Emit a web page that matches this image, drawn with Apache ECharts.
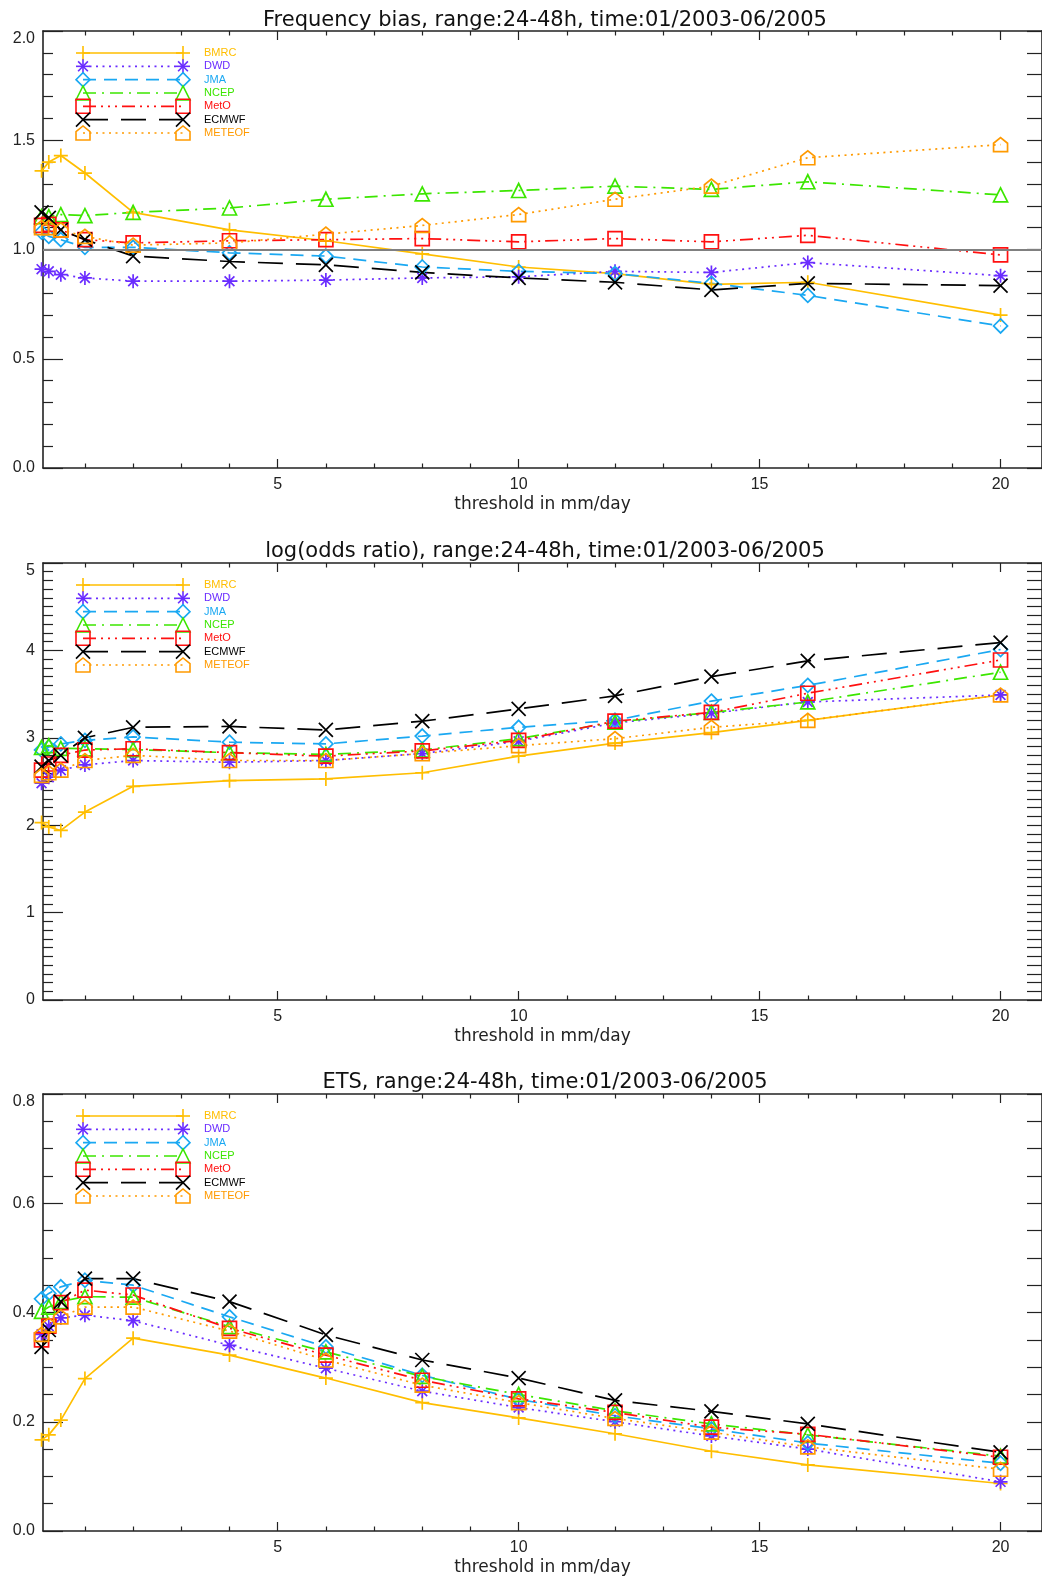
<!DOCTYPE html>
<html>
<head>
<meta charset="utf-8">
<script src="https://cdn.jsdelivr.net/npm/echarts@6/dist/echarts.min.js"></script>
<style>
  html, body { margin: 0; padding: 0; background: #fff; }
  #chart { width: 1042px; height: 1579px; }
</style>
</head>
<body>
<div id="chart"></div>
<script>
// thresholds (mm/day)
const thresholds = [0.1, 0.25, 0.5, 1, 2, 4, 6, 8, 10, 12, 14, 16, 20];
const models = ['BMRC', 'DWD', 'JMA', 'NCEP', 'MetO', 'ECMWF', 'METEOF'];

// frequency bias
const biasBMRC   = [1.36, 1.40, 1.43, 1.35, 1.17, 1.09, 1.04, 0.98, 0.92, 0.89, 0.84, 0.85, 0.70];
const biasDWD    = [0.91, 0.90, 0.885, 0.87, 0.855, 0.855, 0.86, 0.87, 0.875, 0.90, 0.895, 0.94, 0.88];
const biasJMA    = [1.08, 1.06, 1.045, 1.01, 1.01, 0.985, 0.97, 0.92, 0.90, 0.89, 0.845, 0.79, 0.65];
const biasNCEP   = [1.15, 1.15, 1.16, 1.155, 1.17, 1.19, 1.23, 1.255, 1.27, 1.29, 1.275, 1.31, 1.25];
const biasMetO   = [1.11, 1.115, 1.09, 1.045, 1.03, 1.04, 1.045, 1.05, 1.035, 1.05, 1.035, 1.065, 0.975];
const biasECMWF  = [1.17, 1.145, 1.09, 1.045, 0.97, 0.945, 0.93, 0.895, 0.87, 0.85, 0.815, 0.845, 0.835];
const biasMETEOF = [1.10, 1.10, 1.09, 1.06, 1.02, 1.03, 1.07, 1.11, 1.16, 1.23, 1.29, 1.42, 1.48];

// log(odds ratio)
const lorBMRC   = [2.03, 1.98, 1.94, 2.15, 2.445, 2.51, 2.53, 2.60, 2.79, 2.94, 3.06, 3.20, 3.49];
const lorDWD    = [2.48, 2.55, 2.63, 2.69, 2.74, 2.72, 2.74, 2.82, 2.96, 3.17, 3.28, 3.41, 3.49];
const lorJMA    = [2.86, 2.895, 2.93, 2.97, 3.01, 2.95, 2.93, 3.02, 3.12, 3.20, 3.42, 3.60, 4.01];
const lorNCEP   = [2.89, 2.91, 2.88, 2.875, 2.865, 2.83, 2.81, 2.86, 2.99, 3.18, 3.29, 3.41, 3.75];
const lorMetO   = [2.63, 2.70, 2.80, 2.86, 2.875, 2.83, 2.79, 2.85, 2.97, 3.19, 3.29, 3.51, 3.89];
const lorECMWF  = [2.67, 2.74, 2.80, 3.00, 3.12, 3.13, 3.09, 3.19, 3.33, 3.48, 3.70, 3.88, 4.09];
const lorMETEOF = [2.57, 2.60, 2.63, 2.74, 2.80, 2.74, 2.74, 2.82, 2.91, 2.99, 3.12, 3.20, 3.49];

// ETS
const etsBMRC   = [0.167, 0.176, 0.203, 0.279, 0.353, 0.322, 0.28, 0.235, 0.207, 0.178, 0.146, 0.121, 0.087];
const etsDWD    = [0.36, 0.375, 0.39, 0.395, 0.385, 0.34, 0.298, 0.256, 0.226, 0.20, 0.174, 0.15, 0.09];
const etsJMA    = [0.425, 0.435, 0.447, 0.459, 0.45, 0.392, 0.337, 0.285, 0.241, 0.211, 0.187, 0.161, 0.124];
const etsNCEP   = [0.402, 0.41, 0.42, 0.429, 0.428, 0.374, 0.328, 0.283, 0.25, 0.22, 0.196, 0.176, 0.137];
const etsMetO   = [0.35, 0.375, 0.418, 0.441, 0.432, 0.371, 0.322, 0.276, 0.242, 0.217, 0.19, 0.177, 0.135];
const etsECMWF  = [0.337, 0.368, 0.42, 0.462, 0.462, 0.42, 0.359, 0.313, 0.28, 0.239, 0.219, 0.196, 0.144];
const etsMETEOF = [0.36, 0.377, 0.392, 0.41, 0.41, 0.366, 0.313, 0.267, 0.235, 0.206, 0.181, 0.154, 0.113];

const xMajor = [5, 10, 15, 20];
const xMinor = [1, 2, 3, 4, 6, 7, 8, 9, 11, 12, 13, 14, 16, 17, 18, 19];

const panels = [
  { title: 'Frequency bias, range:24-48h, time:01/2003-06/2005', max: 2, interval: 0.5, minor: 5, digits: 1,
    values: [biasBMRC, biasDWD, biasJMA, biasNCEP, biasMetO, biasECMWF, biasMETEOF] },
  { title: 'log(odds ratio), range:24-48h, time:01/2003-06/2005', max: 5, interval: 1, minor: 10, digits: 0,
    values: [lorBMRC, lorDWD, lorJMA, lorNCEP, lorMetO, lorECMWF, lorMETEOF] },
  { title: 'ETS, range:24-48h, time:01/2003-06/2005', max: 0.8, interval: 0.2, minor: 4, digits: 1,
    values: [etsBMRC, etsDWD, etsJMA, etsNCEP, etsMetO, etsECMWF, etsMETEOF] }
];

// look of each model
const colors = ['#FFBE00', '#6A2CFF', '#1AA8F2', '#3CE600', '#FF1010', '#000000', '#FF9A00'];
const dashes = [null, [2, 4.5], [13, 8], [13, 6, 2, 6], [13, 5, 2, 5, 2, 5, 2, 5], [25, 13], [2, 4.5]];
const shapes = [
  'M0,-1L0,1M-1,0L1,0',
  'M0,-1L0,1M-1,0L1,0M-0.7,-0.7L0.7,0.7M-0.7,0.7L0.7,-0.7',
  'M0,-1L1,0L0,1L-1,0Z',
  'M-1,1L0,-1L1,1Z',
  'M-1,-1L1,-1L1,1L-1,1Z',
  'M-1,-1L1,1M-1,1L1,-1',
  'M-1,1L-1,-0.2L0,-1L1,-0.2L1,1Z'
];

const gridTops = [31, 563, 1094];
const gridH = 437;
const gridLeft = 43;
const gridW = 1002;
const xMin = 0.13;
const xMax = 20.86;
const titleTops = [10, 541, 1072];
const frame = '#222';

// turn a symbol path into polylines / polygons for the legend
function symbolParts(d, cx, cy, r, color) {
  const out = [];
  d.split('M').filter(Boolean).forEach(sub => {
    const closed = /Z/.test(sub);
    const pts = sub.replace('Z', '').split('L').map(pt => {
      const [a, b] = pt.split(',').map(Number);
      return [cx + a * r, cy + b * r];
    });
    out.push({
      type: closed ? 'polygon' : 'polyline', shape: { points: pts },
      style: { fill: 'none', stroke: color, lineWidth: 1.6 }
    });
  });
  return out;
}

const chart = echarts.init(document.getElementById('chart'));

const grid = [], xAxis = [], yAxis = [], series = [], title = [], graphic = [];

function xAx(g, pos, ticks, len, main) {
  return {
    type: 'value', gridIndex: g, position: pos, min: xMin, max: xMax,
    axisLine: { show: main, lineStyle: { color: frame, width: 1.6 } },
    axisTick: { show: true, inside: true, length: len, customValues: ticks,
      lineStyle: { color: frame, width: 1.2 } },
    axisLabel: { show: main && pos === 'bottom', customValues: ticks, margin: 9,
      color: '#222', fontFamily: 'Liberation Sans', fontSize: 16 },
    splitLine: { show: false },
    name: main && pos === 'bottom' ? 'threshold in mm/day' : '',
    nameLocation: 'middle', nameGap: 28,
    nameTextStyle: { color: '#222', fontFamily: 'DejaVu Sans', fontSize: 17 }
  };
}

panels.forEach((p, g) => {
  grid.push({ left: gridLeft, top: gridTops[g], width: gridW, height: gridH });
  title.push({
    text: p.title, left: 545, top: titleTops[g], textAlign: 'center', padding: 0,
    textStyle: { fontFamily: 'DejaVu Sans', fontSize: 21, fontWeight: 'normal', color: '#111' }
  });
  xAxis.push(xAx(g, 'bottom', xMajor, 9, true));
  xAxis.push(xAx(g, 'bottom', xMinor, 4.5, false));
  xAxis.push(xAx(g, 'top', xMajor, 9, true));
  xAxis.push(xAx(g, 'top', xMinor, 4.5, false));
  ['left', 'right'].forEach(pos => {
    yAxis.push({
      type: 'value', gridIndex: g, position: pos, min: 0, max: p.max, interval: p.interval,
      axisLine: { show: true, lineStyle: { color: frame, width: 1.6 } },
      axisTick: { inside: true, length: pos === 'left' ? 20 : 15, lineStyle: { color: frame, width: 1.2 } },
      minorTick: { show: true, splitNumber: p.minor, length: pos === 'left' ? 10 : 15,
        lineStyle: { color: frame, width: 1.2 } },
      axisLabel: { show: pos === 'left', margin: 8, color: '#222', fontFamily: 'Liberation Sans', fontSize: 16,
        verticalAlignMaxLabel: 'top',
        formatter: v => v.toFixed(p.digits) },
      splitLine: { show: false }
    });
  });

  models.forEach((m, i) => {
    const s = {
      name: m, type: 'line', xAxisIndex: 4 * g, yAxisIndex: 2 * g,
      data: thresholds.map((t, k) => [t, p.values[i][k]]),
      clip: false,
      symbol: 'path://' + shapes[i], symbolSize: 14, showAllSymbol: true,
      itemStyle: { color: 'transparent', borderColor: colors[i], borderWidth: 1.7 },
      lineStyle: { color: colors[i], width: 1.7, type: dashes[i] || 'solid', cap: 'butt' },
      emphasis: { disabled: true }
    };
    if (g === 0 && i === 0) {
      s.markLine = {
        silent: true, symbol: 'none', label: { show: false },
        lineStyle: { color: '#808080', width: 2, type: 'solid' },
        data: [{ yAxis: 1 }]
      };
    }
    series.push(s);

    // legend row: line with the symbol at both ends, name in colour
    const cy = gridTops[g] + 22 + i * 13.33;
    graphic.push({
      type: 'line', shape: { x1: 83, y1: cy, x2: 183, y2: cy },
      style: { stroke: colors[i], lineWidth: 1.7, lineDash: dashes[i] || null }
    });
    [83, 183].forEach(cx => {
      symbolParts(shapes[i], cx, cy, 7, colors[i]).forEach(el => graphic.push(el));
    });
    graphic.push({
      type: 'text', x: 204, y: cy,
      style: { text: m, fill: colors[i], font: '11px "Liberation Sans"',
        verticalAlign: 'middle', textVerticalAlign: 'middle' }
    });
  });
});

chart.setOption({
  backgroundColor: '#fff',
  animation: false,
  title, grid, xAxis, yAxis, series, graphic
});
</script>
</body>
</html>
